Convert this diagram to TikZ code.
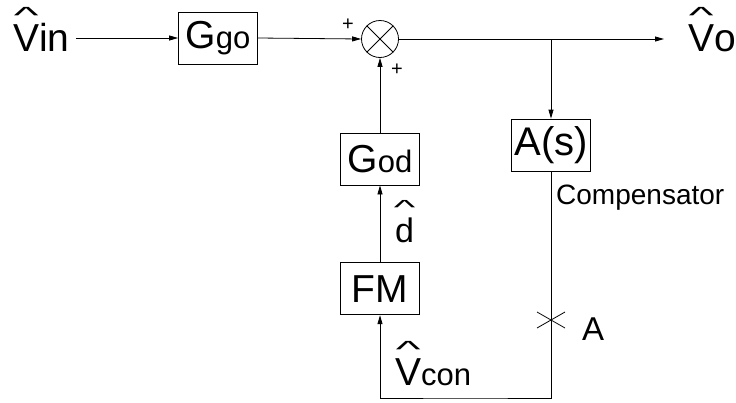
\documentclass[tikz,border=0pt]{standalone}
\usepackage{fontspec}
\setmainfont{Liberation Sans}
\usetikzlibrary{arrows.meta, positioning, calc}
\newcommand{\bigsz}{\fontsize{39}{42}\selectfont}
\newcommand{\subsz}{\fontsize{31}{34}\selectfont}
\newcommand{\hatted}[1]{\ooalign{#1\cr\hidewidth\raisebox{28pt}{\scalebox{1.35}[0.6]{\textasciicircum}}\hidewidth\cr}}
\tikzset{
  blk/.style={
    rectangle, draw=black, line width=0.8pt,
    minimum width=79pt, minimum height=52pt, inner sep=0pt,
    font=\bigsz
  },
  sumnode/.style={
    circle, draw=black, line width=0.8pt,
    minimum size=37pt, inner sep=0pt
  },
  lbl/.style={inner sep=0pt, font=\bigsz},
  sgn/.style={inner sep=0pt, font=\fontsize{20}{22}\selectfont},
  arrow/.style={
    -{Triangle[length=9pt, width=5pt]},
    line width=0.8pt
  },
  wire/.style={line width=0.8pt}
}

\begin{document}
\begin{tikzpicture}[x=1pt, y=-1pt]
\useasboundingbox (0,0) rectangle (736,402);

% ── Forward path ──────────────────────────────────────────────────────────────

\node[lbl, anchor=base west] (vin) at (13,51) {\hatted{V}in};
\node[blk] (ggo) at (218,38) {G{\subsz go}};
\node[sumnode] (sum) at (380,39) {};
\node[lbl, anchor=base west] (vo) at (688,51) {\hatted{V}o};

% ── Feedback blocks ───────────────────────────────────────────────────────────

\node[blk] (god) at (380,159) {G{\subsz od}};
\node[blk, below=77pt of god] (fm) {FM};
\node[blk, font=\fontsize{40}{42}\selectfont] (as) at (551,145) {A(s)};

\coordinate (br) at (551,39);
\coordinate (loop) at (465,398);
\coordinate (ptA) at (551,320);

% ── Labels ────────────────────────────────────────────────────────────────────

\node[sgn] (p1) at (348,25) {+};
\node[sgn] (p2) at (397,70) {+};
\node[lbl, font=\fontsize{34}{36}\selectfont, anchor=base west] (dhat) at (395,242) {\hatted{d}};
\node[lbl, anchor=base west] (vcon) at (395,385) {\hatted{V}{\subsz con}};
\node[lbl, font=\fontsize{28}{30}\selectfont, anchor=west] (comp) at (556,198) {Compensator};
\node[lbl, font=\fontsize{33}{35}\selectfont, anchor=base west] (alab) at (582,340) {A};

% ── Connectors ────────────────────────────────────────────────────────────────

\draw[wire] (sum.north west) -- (sum.south east);
\draw[wire] (sum.north east) -- (sum.south west);

\draw[arrow, shorten <=6pt] (vin.east |- ggo.west) -- (ggo.west);
\draw[arrow] (ggo.east) -- (sum.west);
\draw[arrow, shorten >=24pt] (sum.east) -- (sum.east -| vo.west);
\draw[arrow] (br) -- (as.north);
\draw[arrow] (god.north) -- (sum.south);
\draw[arrow] (fm.north) -- (god.south);
\draw[arrow] (as.south) |- (loop) -| (fm.south);

% cross marking point A
\draw[wire] ($(ptA)+(-14,-8)$) -- ($(ptA)+(14,8)$);
\draw[wire] ($(ptA)+(-14,8)$) -- ($(ptA)+(14,-8)$);

\end{tikzpicture}
\end{document}
